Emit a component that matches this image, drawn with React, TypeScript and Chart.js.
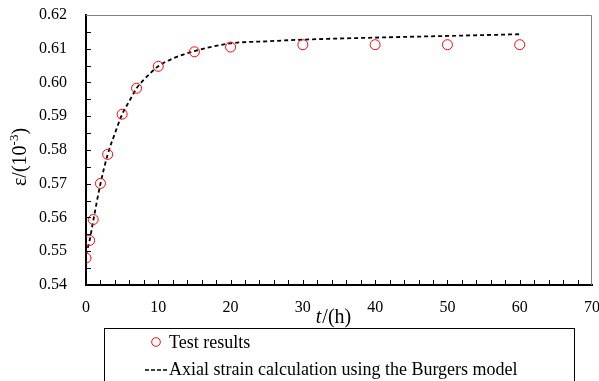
import React, { useEffect, useRef } from "react";
import { Chart, registerables } from "chart.js";

Chart.register(...registerables);

// ---- data ----
const testT = [0, 0.5, 1, 2, 3, 5, 7, 10, 15, 20, 30, 40, 50, 60];
const testE = [0.548, 0.5532, 0.5594, 0.5701, 0.5787, 0.5906, 0.5983, 0.6048, 0.6091, 0.6105, 0.6112, 0.6112, 0.6112, 0.6112];

const modelT = [0, 0.5, 1, 2, 3, 4, 5, 6, 7, 8, 10, 12, 15, 20, 25, 30, 40, 50, 60];
const modelE = [0.549, 0.5532, 0.559, 0.57, 0.5787, 0.5849, 0.5906, 0.5945, 0.5983, 0.6008, 0.6048, 0.6071, 0.6093, 0.6116, 0.6122, 0.6127, 0.6133, 0.6138, 0.6143];

const xMin = 0;
const xMax = 70;
const xStep = 10;
const xMinorStep = 2;
const yMin = 0.54;
const yMax = 0.62;
const yStep = 0.01;
const yMinorStep = 0.005;

const seriesLabels = ["Test results", "Axial strain calculation using the Burgers model"];
const xTitleItalic = "t";
const xTitleRest = "/(h)";
const yTitleMain = "ε/(10";
const yTitleSup = "-3";
const yTitleEnd = ")";

const SERIF = "'Liberation Serif', 'Times New Roman', serif";

const zeroPad = (s: any) => {
  s.paddingTop = 0;
  s.paddingBottom = 0;
  s.paddingLeft = 0;
  s.paddingRight = 0;
};

const decorPlugin = {
  id: "decor",
  afterDraw(chart: any) {
    const { ctx, chartArea: a, scales } = chart;
    const x = scales.x;
    const y = scales.y;
    ctx.save();
    // top and right frame
    ctx.strokeStyle = "#808080";
    ctx.lineWidth = 1;
    ctx.beginPath();
    ctx.moveTo(a.left, a.top + 0.5);
    ctx.lineTo(a.right - 0.5, a.top + 0.5);
    ctx.lineTo(a.right - 0.5, a.bottom);
    ctx.stroke();

    // inward ticks
    ctx.strokeStyle = "#000";
    ctx.lineWidth = 1;
    ctx.beginPath();
    for (let v = xMin + xMinorStep; v < xMax; v += xMinorStep) {
      const px = Math.round(x.getPixelForValue(v)) + 0.5;
      ctx.moveTo(px, a.bottom);
      ctx.lineTo(px, a.bottom - 5);
    }
    const nY = Math.round((yMax - yMin) / yMinorStep);
    for (let i = 1; i < nY; i++) {
      const py = Math.round(y.getPixelForValue(yMin + i * yMinorStep)) + 0.5;
      ctx.moveTo(a.left, py);
      ctx.lineTo(a.left + 5, py);
    }
    ctx.stroke();

    // x title
    ctx.fillStyle = "#000";
    ctx.textBaseline = "alphabetic";
    const fItal = `italic 20px ${SERIF}`;
    const fReg = `20px ${SERIF}`;
    ctx.font = fItal;
    const w1 = ctx.measureText(xTitleItalic).width;
    ctx.font = fReg;
    const w2 = ctx.measureText(xTitleRest).width;
    const cx = (a.left + a.right) / 2 - 6;
    const sx = cx - (w1 + w2) / 2;
    ctx.font = fItal;
    ctx.textAlign = "left";
    ctx.fillText(xTitleItalic, sx, 323);
    ctx.font = fReg;
    ctx.fillText(xTitleRest, sx + w1 + 1, 323);

    // y title (rotated)
    ctx.save();
    ctx.translate(26, (a.top + a.bottom) / 2 + 7);
    ctx.rotate(-Math.PI / 2);
    const fSup = `13px ${SERIF}`;
    ctx.font = fReg;
    const m1 = ctx.measureText(yTitleMain).width;
    const m3 = ctx.measureText(yTitleEnd).width;
    ctx.font = fSup;
    const m2 = ctx.measureText(yTitleSup).width;
    const ty = -(m1 + m2 + m3) / 2;
    ctx.font = fReg;
    ctx.fillText(yTitleMain, ty, 0);
    ctx.font = fSup;
    ctx.fillText(yTitleSup, ty + m1, -8);
    ctx.font = fReg;
    ctx.fillText(yTitleEnd, ty + m1 + m2, 0);
    ctx.restore();

    // legend box
    ctx.strokeStyle = "#000";
    ctx.lineWidth = 1;
    ctx.strokeRect(104.5, 328.5, 470, 80);
    const ds0 = chart.data.datasets[0];
    const ds1 = chart.data.datasets[1];
    ctx.strokeStyle = ds0.borderColor;
    ctx.lineWidth = 1;
    ctx.beginPath();
    ctx.arc(156, 342, 4.3, 0, Math.PI * 2);
    ctx.stroke();
    ctx.strokeStyle = ds1.borderColor;
    ctx.lineWidth = 1.6;
    ctx.setLineDash([4, 2]);
    ctx.beginPath();
    ctx.moveTo(145, 370);
    ctx.lineTo(167, 370);
    ctx.stroke();
    ctx.setLineDash([]);
    ctx.fillStyle = "#000";
    ctx.font = `18px ${SERIF}`;
    ctx.fillText(ds0.label, 169, 348);
    ctx.fillText(ds1.label, 169, 375);
    ctx.restore();
  },
};

export default function App() {
  const ref = useRef<HTMLCanvasElement>(null);

  useEffect(() => {
    if (!ref.current) return;
    const chart = new Chart(ref.current, {
      type: "scatter",
      data: {
        datasets: [
          {
            label: seriesLabels[0],
            data: testT.map((t, i) => ({ x: t, y: testE[i] })),
            borderColor: "#ff0000",
            backgroundColor: "rgba(0,0,0,0)",
            pointRadius: 5,
            pointBorderWidth: 1,
            pointStyle: "circle",
            showLine: false,
            order: 1,
          },
          {
            label: seriesLabels[1],
            data: modelT.map((t, i) => ({ x: t, y: modelE[i] })),
            borderColor: "#000000",
            backgroundColor: "#000000",
            borderWidth: 1.8,
            borderDash: [4, 3],
            pointRadius: 0,
            showLine: true,
            cubicInterpolationMode: "monotone",
            order: 2,
          },
        ],
      },
      options: {
        animation: false,
        responsive: false,
        layout: { padding: { left: 0, top: 15, right: 7, bottom: 0 } },
        plugins: { legend: { display: false }, tooltip: { enabled: false } },
        scales: {
          x: {
            type: "linear",
            min: xMin,
            max: xMax,
            grid: { display: false, drawTicks: false },
            border: { display: true, color: "#000", width: 2 },
            ticks: {
              stepSize: xStep,
              padding: 13,
              color: "#000",
              font: { family: SERIF, size: 16 },
              maxRotation: 0,
            },
            afterFit: (s: any) => {
              s.height = 96;
              zeroPad(s);
            },
          },
          y: {
            type: "linear",
            min: yMin,
            max: yMax,
            grid: { display: false, drawTicks: false },
            border: { display: true, color: "#000", width: 2 },
            ticks: {
              stepSize: yStep,
              padding: 19,
              color: "#000",
              font: { family: SERIF, size: 16 },
              callback: (v: any) => Number(v).toFixed(2),
            },
            afterFit: (s: any) => {
              s.width = 86;
              zeroPad(s);
            },
          },
        },
      },
      plugins: [decorPlugin],
    } as any);
    return () => chart.destroy();
  }, []);

  return (
    <div style={{ position: "absolute", left: 0, top: 0, width: 599, height: 381, background: "#fff" }}>
      <canvas ref={ref} width={599} height={381} />
    </div>
  );
}
